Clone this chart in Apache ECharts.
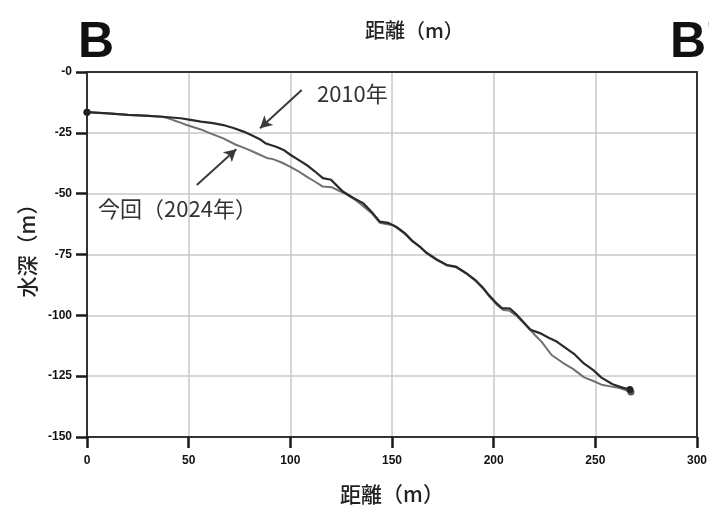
<!DOCTYPE html>
<html>
<head>
<meta charset="utf-8">
<style>
  html, body { margin: 0; padding: 0; background: #fff; }
  #chart { width: 709px; height: 514px; }
</style>
<script src="https://cdn.jsdelivr.net/npm/echarts@6/dist/echarts.min.js"></script>
</head>
<body>
<div id="chart"></div>
<script>
// Cross-section B–B': seabed depth profile along the survey line

// 2010 survey
const dist2010  = [0, 10, 20, 30, 37, 46, 51, 56, 62, 67, 72, 77, 81, 85, 88, 93, 97, 100, 105, 108, 112, 116, 120, 123, 126, 131, 136, 140, 144, 148, 152, 156, 160, 164, 167, 172, 177, 181.5, 186.5, 191, 195, 198, 201.5, 204, 208, 211, 214.5, 218, 220, 223, 227, 231, 235, 239.5, 244, 249, 253, 258.5, 263, 267];
const depth2010 = [-16.5, -17, -17.6, -18, -18.4, -19, -19.7, -20.4, -21, -21.8, -23, -24.5, -26, -27.6, -29.4, -30.7, -32.2, -34, -36.6, -38.2, -40.8, -43.6, -44.3, -46.8, -49.2, -51.8, -54, -57.5, -61.5, -62, -63.6, -66, -69.5, -72, -74.3, -77, -79.3, -80, -82.7, -85.5, -88.9, -92, -95.1, -97, -97.2, -99.5, -102.6, -105.8, -106.5, -107.4, -109.2, -110.8, -113.2, -115.8, -119.5, -122.5, -125.6, -128.3, -129.6, -130.5];

// 2024 survey (this time)
const dist2024  = [0, 10, 20, 30, 37, 40, 42.5, 46, 49, 55.6, 61, 67, 73, 78.5, 83.4, 88.4, 91.5, 96, 100, 104, 108, 112, 116, 120.5, 124, 127, 131, 135, 140, 144, 147, 150.6, 154, 157.2, 160, 164, 167, 172, 177, 181.5, 186.5, 191, 195, 198, 201.5, 204.7, 207.5, 211, 214.5, 218, 220.5, 223.5, 228.5, 234, 239, 244.5, 249, 253, 258, 262, 267.5];
const depth2024 = [-16.5, -17, -17.6, -18, -18.4, -19, -19.8, -20.8, -21.8, -23.5, -25.3, -27.3, -29.8, -31.6, -33.4, -35.3, -35.8, -37.3, -39, -40.8, -43, -45, -47.1, -47.4, -48.8, -50, -52, -54.5, -58, -62, -62.5, -63, -65, -67.2, -69.3, -72, -74.5, -77.3, -79.5, -80.3, -82.8, -85.8, -89.2, -92.4, -95.6, -97.8, -98, -100, -103, -106, -108.3, -110.8, -116.3, -119.5, -122, -125.5, -127, -128.5, -129.3, -129.9, -131.5];

// axis ticks
const xTicks = [0, 50, 100, 150, 200, 250, 300];
const yTickValues = [0, -25, -50, -75, -100, -125, -150];
const yTickLabels = ['-0', '-25', '-50', '-75', '-100', '-125', '-150'];

// annotation labels and arrow positions (data coordinates)
const label2010 = { text: '2010年', at: [130.5, -9] };
const label2024 = { text: '今回（2024年）', at: [44.5, -56.3] };
const arrow2010 = [[105.6, -7.4], [85.1, -23.1]];
const arrow2024 = [[54, -46.4], [73.4, -31.7]];

const pair = (xs, ys) => xs.map((x, i) => [x, ys[i]]);
const CJK = '"Noto Sans CJK JP", "Noto Sans", sans-serif';
const NUM = '"Liberation Sans", Arial, sans-serif';

const endDots = (len) => (val, p) => (p.dataIndex === 0 || p.dataIndex === len - 1) ? 7 : 0;

const frameLine = { show: true, onZero: false, lineStyle: { color: '#333', width: 2 } };
const gridLine = { show: true, lineStyle: { color: '#c8c8c8', width: 1.5 } };

const chart = echarts.init(document.getElementById('chart'), null, { renderer: 'canvas' });

chart.setOption({
  backgroundColor: '#ffffff',
  animation: false,
  grid: { left: 87, right: 12, top: 72, bottom: 77, outerBoundsMode: 'none' },
  graphic: [
    { type: 'text', left: 78, top: 18, style: { text: 'B', font: 'bold 50px ' + NUM, fill: '#111' } },
    { type: 'text', left: 670, top: 18, style: { text: "B'", font: 'bold 50px ' + NUM, fill: '#111' } },
    { type: 'text', left: 365, top: 20, style: { text: '距離（m）', font: '500 20px ' + CJK, fill: '#222' } }
  ],
  xAxis: [
    {
      type: 'value', position: 'bottom', min: xTicks[0], max: xTicks[xTicks.length - 1], interval: 50,
      name: '距離（m）', nameLocation: 'middle', nameGap: 47,
      nameTextStyle: { fontFamily: CJK, fontSize: 21, color: '#222', fontWeight: 500 },
      axisLine: frameLine,
      axisTick: { show: true, length: 11, lineStyle: { color: '#1a1a1a', width: 2.5 } },
      axisLabel: { margin: 18, fontFamily: NUM, fontWeight: 'bold', fontSize: 12, color: '#111' },
      splitLine: gridLine
    },
    {
      // top edge of the plot frame
      type: 'value', position: 'top', min: xTicks[0], max: xTicks[xTicks.length - 1], interval: 50,
      axisLine: frameLine, axisTick: { show: false }, axisLabel: { show: false }, splitLine: { show: false }
    }
  ],
  yAxis: [
    {
      type: 'value', position: 'left', min: -150, max: 0, interval: 25,
      name: '水深（m）', nameLocation: 'middle', nameGap: 48, nameRotate: 90,
      nameTextStyle: { fontFamily: CJK, fontSize: 21, color: '#222', fontWeight: 500, padding: [0, 0, 0, 18] },
      axisLine: frameLine,
      axisTick: { show: true, length: 11, lineStyle: { color: '#1a1a1a', width: 2.5 } },
      axisLabel: {
        margin: 15, fontFamily: NUM, fontWeight: 'bold', fontSize: 12, color: '#111',
        formatter: (v) => { const i = yTickValues.indexOf(v); return i >= 0 ? yTickLabels[i] : String(v); }
      },
      splitLine: gridLine
    },
    {
      // right edge of the plot frame
      type: 'value', position: 'right', min: -150, max: 0, interval: 25,
      axisLine: frameLine, axisTick: { show: false }, axisLabel: { show: false }, splitLine: { show: false }
    }
  ],
  series: [
    {
      name: '今回（2024年）', type: 'line', data: pair(dist2024, depth2024),
      showAllSymbol: true, symbol: 'circle', symbolSize: endDots(dist2024.length),
      itemStyle: { color: '#555' },
      lineStyle: { color: '#707070', width: 2 },
      z: 2,
      markPoint: {
        silent: true, symbol: 'circle', symbolSize: 1, itemStyle: { color: 'rgba(0,0,0,0)' },
        label: { show: true, position: 'inside', color: '#333', fontFamily: CJK, fontSize: 22 },
        data: [
          { coord: label2010.at, value: label2010.text, label: { formatter: label2010.text } },
          { coord: label2024.at, value: label2024.text, label: { formatter: label2024.text } }
        ]
      },
      markLine: {
        silent: true, symbol: ['none', 'arrow'], symbolSize: [10, 12],
        lineStyle: { color: '#3a3a3a', width: 2, type: 'solid' },
        label: { show: false },
        data: [
          [{ coord: arrow2010[0] }, { coord: arrow2010[1] }],
          [{ coord: arrow2024[0] }, { coord: arrow2024[1] }]
        ]
      }
    },
    {
      name: '2010年', type: 'line', data: pair(dist2010, depth2010),
      showAllSymbol: true, symbol: 'circle', symbolSize: endDots(dist2010.length),
      itemStyle: { color: '#222' },
      lineStyle: { color: '#2a2a2a', width: 2.2 },
      z: 3
    }
  ]
});
</script>
</body>
</html>
